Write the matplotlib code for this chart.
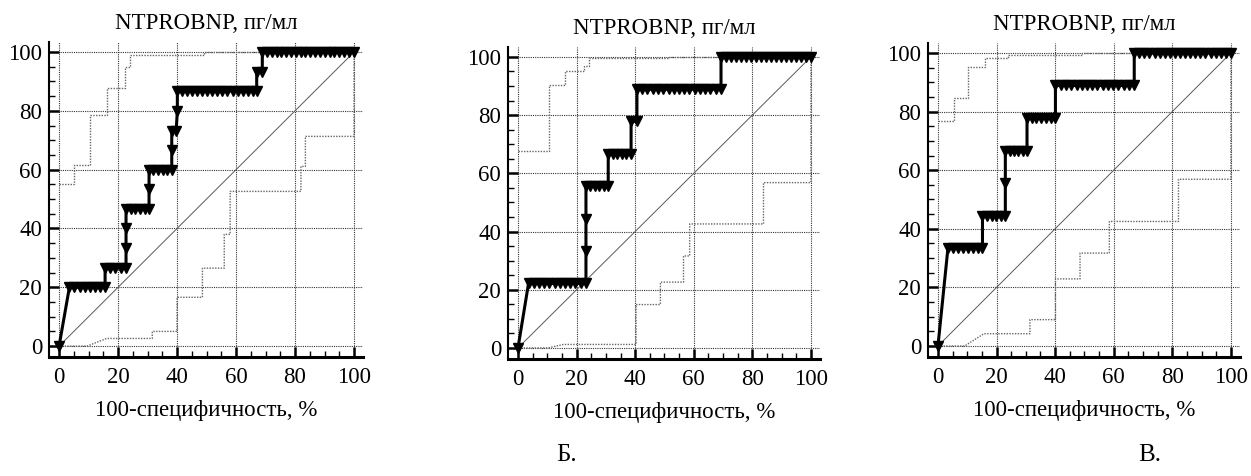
import numpy as np
import matplotlib
matplotlib.use('Agg')
import matplotlib.pyplot as plt

plt.rcParams['font.family'] = ['Liberation Serif', 'DejaVu Serif']
plt.rcParams['font.size'] = 16.5

title = 'NTPROBNP, пг/мл'
xlabel = '100-специфичность, %'
ticks = [0, 20, 40, 60, 80, 100]

# ROC curves (each point = one criterion)
roc1_x = [0, 3.5, 5.2, 7.0, 8.7, 10.4, 12.2, 13.9, 15.6,
          15.6, 17.4, 19.1, 20.9, 22.7,
          22.7, 22.7,
          22.7, 24.3, 25.9, 27.4, 29.0, 30.5,
          30.5,
          30.5, 32.0, 33.6, 35.1, 36.7, 38.2,
          38.2, 38.2, 39.7, 40.1,
          40.1, 41.8, 43.5, 45.2, 46.9, 48.6, 50.3, 52.0, 53.7, 55.4, 57.1, 58.8,
          60.5, 62.2, 63.9, 65.6, 67.0,
          67.0, 68.9,
          68.9, 70.5, 72.2, 73.8, 75.4, 77.0, 78.7, 80.3, 81.9, 83.5, 85.2, 86.8,
          88.4, 90.0, 91.7, 93.3, 94.9, 96.5, 98.2, 100.0]
roc1_y = [0, 20.0, 20.0, 20.0, 20.0, 20.0, 20.0, 20.0, 20.0,
          26.7, 26.7, 26.7, 26.7, 26.7,
          33.3, 40.0,
          46.7, 46.7, 46.7, 46.7, 46.7, 46.7,
          53.3,
          60.0, 60.0, 60.0, 60.0, 60.0, 60.0,
          66.7, 73.3, 73.3, 80.0,
          86.7, 86.7, 86.7, 86.7, 86.7, 86.7, 86.7, 86.7, 86.7, 86.7, 86.7, 86.7,
          86.7, 86.7, 86.7, 86.7, 86.7,
          93.3, 93.3,
          100, 100, 100, 100, 100, 100, 100, 100, 100, 100, 100, 100,
          100, 100, 100, 100, 100, 100, 100, 100]

roc2_x = [0, 3.6, 5.4, 7.2, 8.9, 10.7, 12.5, 14.3, 16.1, 17.9, 19.6, 21.4, 23.2,
          23.2, 23.2,
          23.2, 24.7, 26.2, 27.8, 29.3, 30.8,
          30.8, 32.4, 33.9, 35.5, 37.0, 38.6,
          38.6, 40.6,
          40.6, 42.4, 44.2, 46.0, 47.8, 49.6, 51.4, 53.1, 54.9, 56.7, 58.5, 60.3,
          62.1, 63.9, 65.7, 67.5, 69.3,
          69.3, 71.0, 72.7, 74.4, 76.1, 77.8, 79.5, 81.2, 82.9, 84.7, 86.4, 88.1,
          89.8, 91.5, 93.2, 94.9, 96.6, 98.3, 100.0]
roc2_y = [0, 22.2, 22.2, 22.2, 22.2, 22.2, 22.2, 22.2, 22.2, 22.2, 22.2, 22.2, 22.2,
          33.3, 44.4,
          55.6, 55.6, 55.6, 55.6, 55.6, 55.6,
          66.7, 66.7, 66.7, 66.7, 66.7, 66.7,
          77.8, 77.8,
          88.9, 88.9, 88.9, 88.9, 88.9, 88.9, 88.9, 88.9, 88.9, 88.9, 88.9, 88.9,
          88.9, 88.9, 88.9, 88.9, 88.9,
          100, 100, 100, 100, 100, 100, 100, 100, 100, 100, 100, 100,
          100, 100, 100, 100, 100, 100, 100]

roc3_x = [0, 3.4, 5.1, 6.8, 8.5, 10.1, 11.8, 13.5, 15.2,
          15.2, 16.8, 18.3, 19.9, 21.4, 23.0,
          23.0,
          23.0, 24.5, 26.0, 27.4, 28.9, 30.4,
          30.4, 32.0, 33.6, 35.3, 36.9, 38.5, 40.1,
          40.1, 41.9, 43.7, 45.5, 47.3, 49.1, 50.9, 52.6, 54.4, 56.2, 58.0, 59.8,
          61.6, 63.4, 65.2, 67.0,
          67.0, 68.7, 70.5, 72.2, 74.0, 75.7, 77.4, 79.2, 80.9, 82.6, 84.4, 86.1,
          87.8, 89.6, 91.3, 93.1, 94.8, 96.5, 98.3, 100.0]
roc3_y = [0, 33.3, 33.3, 33.3, 33.3, 33.3, 33.3, 33.3, 33.3,
          44.4, 44.4, 44.4, 44.4, 44.4, 44.4,
          55.6,
          66.7, 66.7, 66.7, 66.7, 66.7, 66.7,
          77.8, 77.8, 77.8, 77.8, 77.8, 77.8, 77.8,
          88.9, 88.9, 88.9, 88.9, 88.9, 88.9, 88.9, 88.9, 88.9, 88.9, 88.9, 88.9,
          88.9, 88.9, 88.9, 88.9,
          100, 100, 100, 100, 100, 100, 100, 100, 100, 100, 100, 100,
          100, 100, 100, 100, 100, 100, 100, 100]

# 95% confidence bands
up1_x = [0, 5.2, 5.2, 10.4, 10.4, 16.1, 16.1, 22.2, 22.2, 23.9, 23.9, 49.2, 49.2, 100]
up1_y = [55.2, 55.2, 61.7, 61.7, 78.5, 78.5, 87.8, 87.8, 94.9, 94.9, 98.9, 98.9, 100, 100]
lo1_x = [0, 9.5, 16.1, 31.6, 31.6, 40.0, 40.0, 48.6, 48.6, 56.0, 56.0, 58.0, 58.0,
         82.0, 82.0, 83.5, 83.5, 100, 100]
lo1_y = [0, 0, 2.6, 2.6, 5.0, 5.0, 16.6, 16.6, 26.5, 26.5, 38.0, 38.0, 52.6,
         52.6, 61.1, 61.1, 71.3, 71.3, 100]

up2_x = [0, 10.5, 10.5, 15.9, 15.9, 22.4, 22.4, 24.1, 24.1, 51.4, 51.4, 100]
up2_y = [67.8, 67.8, 90.4, 90.4, 95.3, 95.3, 97.0, 97.0, 99.6, 99.6, 100, 100]
lo2_x = [0, 10.2, 15.5, 40.3, 40.3, 48.6, 48.6, 56.5, 56.5, 58.6, 58.6, 83.8, 83.8, 100, 100]
lo2_y = [0, 0, 1.2, 1.2, 14.9, 14.9, 22.6, 22.6, 31.6, 31.6, 42.6, 42.6, 56.8, 56.8, 100]

up3_x = [0, 5.4, 5.4, 10.3, 10.3, 16.0, 16.0, 23.9, 23.9, 49.0, 49.0, 100]
up3_y = [76.9, 76.9, 84.7, 84.7, 95.2, 95.2, 98.3, 98.3, 99.4, 99.4, 100, 100]
lo3_x = [0, 9.1, 15.7, 31.4, 31.4, 40.1, 40.1, 48.5, 48.5, 58.5, 58.5, 82.1, 82.1, 100, 100]
lo3_y = [0, 0, 4.2, 4.2, 9.0, 9.0, 22.9, 22.9, 31.7, 31.7, 42.5, 42.5, 56.9, 56.9, 100]

panels = [
    ([0.0392, 0.250, 0.2510, 0.6618], (-3.4, 103.05), (-3.7, 103.4),
     roc1_x, roc1_y, up1_x, up1_y, lo1_x, lo1_y),
    ([0.4061, 0.2458, 0.2494, 0.6555], (-3.4, 103.1), (-3.8, 103.4),
     roc2_x, roc2_y, up2_x, up2_y, lo2_x, lo2_y),
    ([0.7418, 0.250, 0.2494, 0.6597], (-3.4, 103.1), (-3.75, 103.4),
     roc3_x, roc3_y, up3_x, up3_y, lo3_x, lo3_y),
]

fig = plt.figure(figsize=(12.51, 4.76), dpi=100)

for rect, xl, yl, rx, ry, ux, uy, lx, ly in panels:
    ax = fig.add_axes(rect)
    ax.set_xlim(*xl)
    ax.set_ylim(*yl)
    for t in ticks:
        ax.axvline(t, color='0.2', lw=0.8, ls=(0, (1, 1)), zorder=1)
        ax.axhline(t, color='0.2', lw=0.8, ls=(0, (1, 1)), zorder=1)
    ax.plot([0, 100], [0, 100], color='0.35', lw=0.7, zorder=2)
    ax.plot(ux, uy, color='0.4', lw=1.0, ls=(0, (1, 1)), zorder=2)
    ax.plot(lx, ly, color='0.4', lw=1.0, ls=(0, (1, 1)), zorder=2)
    ax.plot(rx, ry, color='black', lw=2.2, marker='v', ms=6.5,
            mfc='black', mec='black', zorder=3, clip_on=False)

    ax.spines['top'].set_visible(False)
    ax.spines['right'].set_visible(False)
    ax.spines['left'].set_linewidth(1.5)
    ax.spines['bottom'].set_linewidth(2.2)
    ax.set_xticks(ticks)
    ax.set_yticks(ticks)
    ax.set_xticks(np.arange(0, 101, 5), minor=True)
    ax.set_yticks(np.arange(0, 101, 5), minor=True)
    ax.tick_params(which='major', direction='in', length=7, width=1.8)
    ax.tick_params(which='minor', direction='in', length=4, width=1.0)
    ax.tick_params(axis='y', which='major', pad=5)
    ax.tick_params(axis='x', which='major', pad=7)
    ax.set_title(title, fontsize=16.5, pad=9)
    ax.set_xlabel(xlabel, fontsize=16.5, labelpad=9)

fig.text(0.453, 0.044, 'Б.', fontsize=18, ha='center', va='center')
fig.text(0.919, 0.044, 'В.', fontsize=18, ha='center', va='center')

fig.savefig('out.png', dpi=100)
